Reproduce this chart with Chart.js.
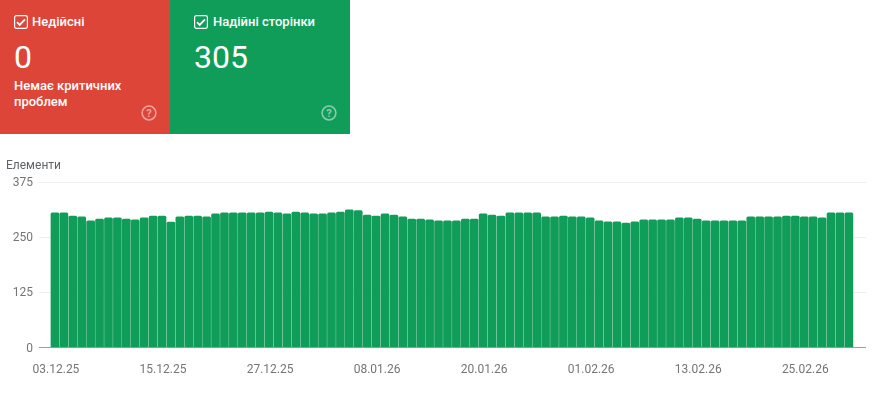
<!DOCTYPE html>
<html lang="uk"><head><meta charset="utf-8">
<script src="https://cdn.jsdelivr.net/npm/chart.js@4"></script>
<style>
html,body{margin:0;padding:0;background:#fff;width:873px;height:394px;overflow:hidden;font-family:Roboto,sans-serif}
#c{position:absolute;left:0;top:0}
.tile{position:absolute;top:0;height:134px;color:#fff}
#red{left:0;width:170px;background:#dd4539}
#green{left:170px;width:180px;background:#109d59}
.lab{position:absolute;top:14px;font-size:13px;font-weight:500;line-height:15px;white-space:nowrap}
.num{position:absolute;top:39px;font-size:32px;line-height:37px}
.msg{position:absolute;left:14px;top:78px;font-size:13px;font-weight:500;line-height:16px;width:140px}
.ck{position:absolute;top:15px}
.hp{position:absolute;top:105px;opacity:.5}
#ytitle{position:absolute;left:6px;top:158px;font-size:12px;line-height:15px;color:#5f6368}
</style></head><body>
<canvas id="c" width="873" height="394"></canvas>
<div class="tile" id="red">
<svg class="ck" style="left:14px" width="14" height="14" viewBox="0 0 14 14"><rect x=".6" y=".6" width="12.8" height="12.8" rx="1.8" fill="none" stroke="#fff" stroke-width="1.2"/><path d="M3 7.2l2.7 2.7L11 4.3" fill="none" stroke="#fff" stroke-width="1.8"/></svg>
<div class="lab" style="left:32px">Недійсні</div>
<div class="num" style="left:14px">0</div>
<div class="msg">Немає критичних проблем</div>
<svg class="hp" style="left:141px" width="16" height="16" viewBox="0 0 16 16"><circle cx="8" cy="8" r="6.9" fill="none" stroke="#fff" stroke-width="1.5"/><text x="8" y="12" text-anchor="middle" font-family="Roboto" font-weight="700" font-size="11" fill="#fff">?</text></svg>
</div>
<div class="tile" id="green">
<svg class="ck" style="left:24px" width="14" height="14" viewBox="0 0 14 14"><rect x=".6" y=".6" width="12.8" height="12.8" rx="1.8" fill="none" stroke="#fff" stroke-width="1.2"/><path d="M3 7.2l2.7 2.7L11 4.3" fill="none" stroke="#fff" stroke-width="1.8"/></svg>
<div class="lab" style="left:43px">Надійні сторінки</div>
<div class="num" style="left:24px">305</div>
<svg class="hp" style="left:151px" width="16" height="16" viewBox="0 0 16 16"><circle cx="8" cy="8" r="6.9" fill="none" stroke="#fff" stroke-width="1.5"/><text x="8" y="12" text-anchor="middle" font-family="Roboto" font-weight="700" font-size="11" fill="#fff">?</text></svg>
</div>
<div id="ytitle">Елементи</div>
<script>
const seriesValues = [
305,305,298,296,287,291,294,294,291,289,
294,298,298,284,296,298,298,296,303,305,
305,305,305,305,307,305,303,307,305,303,
303,305,307,312,310,300,298,303,300,296,
291,291,289,287,287,287,291,291,303,300,
298,305,305,305,305,296,296,298,296,296,
294,287,285,285,282,285,289,289,289,289,
294,294,291,287,287,287,287,287,296,296,
296,296,298,298,296,296,294,305,305,305];
const tickIndexes = [0,12,24,36,48,60,72,84];
const tickLabels = ["03.12.25","15.12.25","27.12.25","08.01.26","20.01.26","01.02.26","13.02.26","25.02.26"];
const yTicks = [0,125,250,375];

new Chart(document.getElementById('c'), {
  type: 'bar',
  data: { datasets: [{
    data: seriesValues.map((v,i)=>({x:i,y:v})),
    backgroundColor:'#109d59',
    barThickness:8,
    borderRadius:{topLeft:1.5,topRight:1.5,bottomLeft:0,bottomRight:0},
    borderSkipped:false
  }]},
  options: {
    responsive:false, animation:false, events:[],
    layout:{padding:{left:0,right:7,top:182,bottom:0}},
    plugins:{legend:{display:false},tooltip:{enabled:false},title:{display:false}},
    scales:{
      x:{type:'linear',offset:false,min:-1.79,max:90.92,
        afterFit(s){s.height=46.5;},
        afterBuildTicks(s){s.ticks=tickIndexes.map(v=>({value:v}));},
        grid:{display:false,drawTicks:false,offset:false},
        border:{display:false},
        ticks:{autoSkip:false,maxRotation:0,minRotation:0,padding:15,labelOffset:1,color:'#757575',
          font:{family:'Roboto',size:12},
          callback(v){return tickLabels[tickIndexes.indexOf(v)];}}
      },
      y:{min:0,max:375,
        afterFit(s){s.width=39;},
        afterBuildTicks(s){s.ticks=yTicks.map(v=>({value:v}));},
        grid:{drawTicks:false,lineWidth:1,color(c){return c.tick&&c.tick.value===0?'#9e9e9e':'#eeeeee';}},
        border:{display:false},
        ticks:{padding:6,labelOffset:1,color:'#757575',font:{family:'Roboto',size:12}}
      }
    }
  }
});
</script>
</body></html>
